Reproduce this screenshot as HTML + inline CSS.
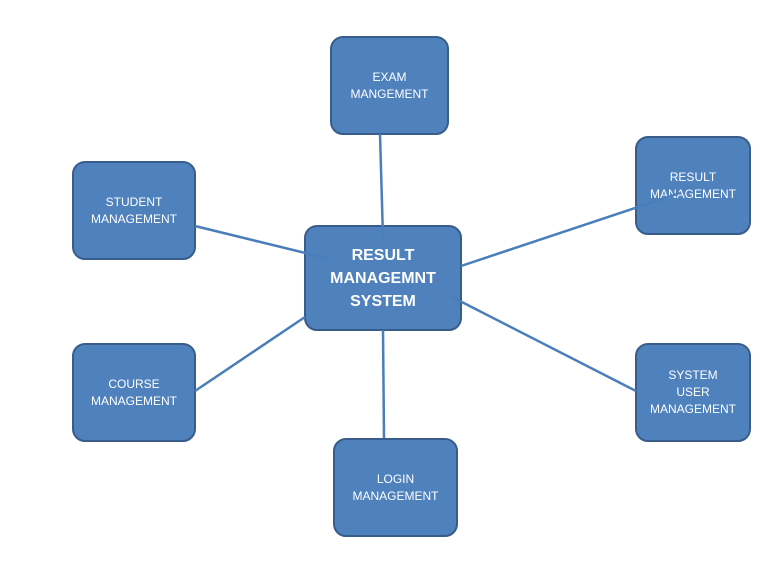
<!DOCTYPE html>
<html><head><style>
body{margin:0;background:#fff;width:781px;height:574px;position:relative;overflow:hidden;font-family:"Liberation Sans",sans-serif}
.b{position:absolute;background:#4f81bd;border:2.5px solid #385d8a;border-radius:13px;box-sizing:border-box;color:#fff;font-size:12px;line-height:17px;text-align:center;display:flex;align-items:center;justify-content:center}
svg{position:absolute;left:0;top:0}
</style></head><body>
<div class="b" style="left:330px;top:36px;width:119px;height:99px">EXAM<br>MANGEMENT</div>
<div class="b" style="left:72px;top:161px;width:124px;height:99px">STUDENT<br>MANAGEMENT</div>
<div class="b" style="left:635px;top:136px;width:116px;height:99px">RESULT<br>MANAGEMENT</div>
<div class="b" style="left:72px;top:343px;width:124px;height:99px">COURSE<br>MANAGEMENT</div>
<div class="b" style="left:635px;top:343px;width:116px;height:99px">SYSTEM<br>USER<br>MANAGEMENT</div>
<div class="b" style="left:333px;top:438px;width:125px;height:99px">LOGIN<br>MANAGEMENT</div>
<div class="b" style="left:304px;top:225px;width:158px;height:106px;font-size:16px;font-weight:bold;line-height:23px">RESULT<br>MANAGEMNT<br>SYSTEM</div>
<svg width="781" height="574"><g stroke="#4a7ebb" stroke-width="2.5" fill="none">
<line x1="380" y1="134" x2="383" y2="238"/>
<line x1="195" y1="226" x2="330" y2="259"/>
<line x1="461" y1="266" x2="680" y2="193"/>
<line x1="452" y1="297" x2="636" y2="391"/>
<line x1="195" y1="391" x2="305" y2="317"/>
<line x1="383" y1="330" x2="384" y2="438"/>
</g></svg>
</body></html>
